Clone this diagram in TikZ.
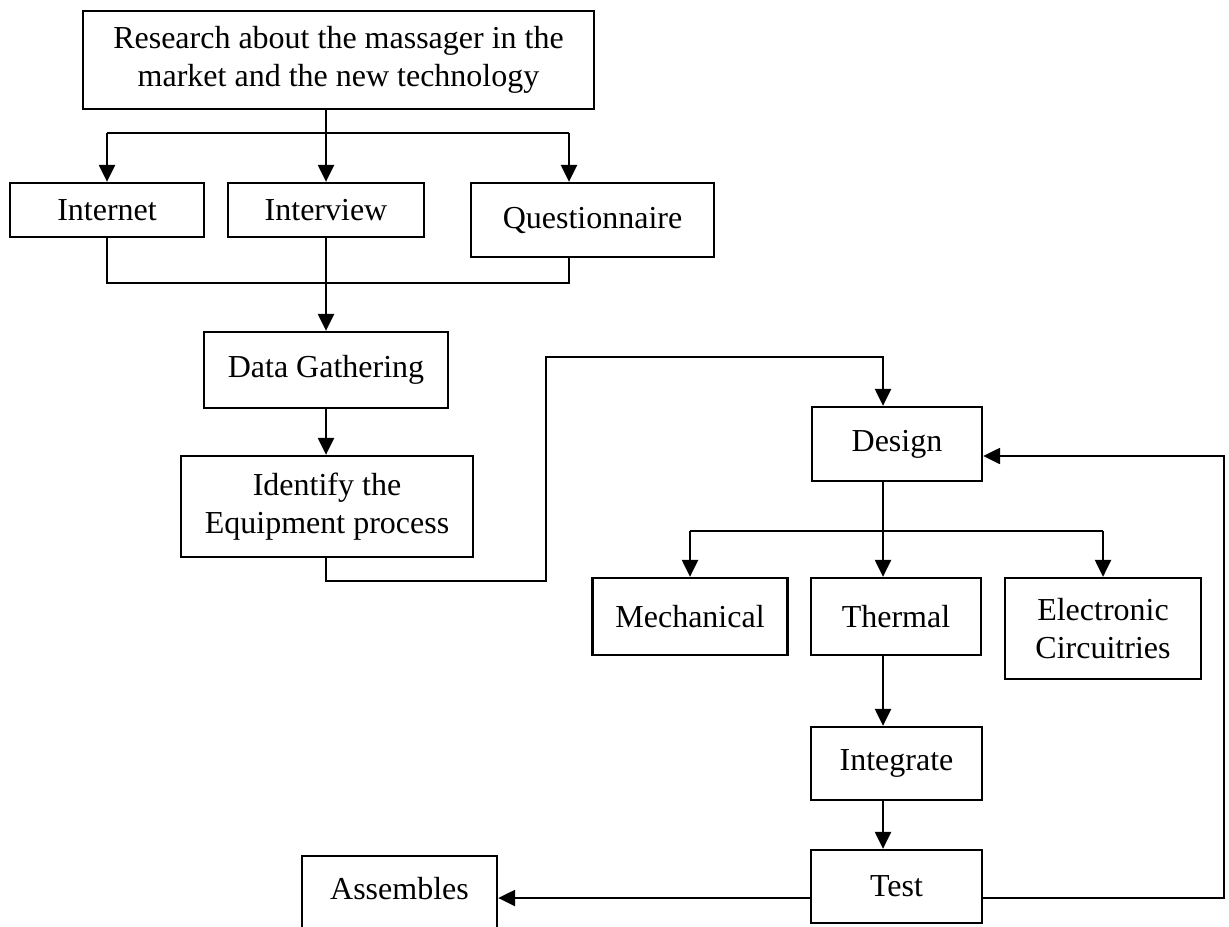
\documentclass[tikz,border=0pt]{standalone}
\usepackage{fontspec}
\setmainfont{Liberation Serif}
\usetikzlibrary{arrows.meta,calc}
\begin{document}
\begin{tikzpicture}[x=0.5pt,y=-0.5pt,
  box/.style={draw,line width=1.15pt,rectangle,inner sep=0pt,align=center,font=\fontsize{16}{19}\selectfont},
  conn/.style={line width=1.15pt},
  arr/.style={conn,-{Triangle[length=8.5pt,width=8pt]}}]
\useasboundingbox (0,0) rectangle (1229,926);
\clip (0,0) rectangle (1229,926);
\fill[white] (0,0) rectangle (1229,926);
% nodes
\node[box,minimum width=255.5pt,minimum height=49pt] (top) at (338.5,60) {Research about the massager in the\\market and the new technology};
\node[box,minimum width=97pt,minimum height=27pt] (inet) at (107,210) {Internet};
\node[box,minimum width=98pt,minimum height=27pt] (intv) at (326,210) {Interview};
\node[box,minimum width=121.5pt,minimum height=37pt] (quest) at (592.5,220) {Questionnaire};
\node[box,minimum width=122pt,minimum height=38pt] (data) at (326,370) {Data Gathering};
\node[box,minimum width=146pt,minimum height=50.5pt] (ident) at (327,506.5) {Identify the\\Equipment process};
\node[box,minimum width=85pt,minimum height=37pt] (design) at (897,444) {Design};
\node[box,minimum width=97.5pt,minimum height=38.5pt] (mech) at (690,616.5) {Mechanical};
\node[box,minimum width=85pt,minimum height=38.5pt] (therm) at (896,616.5) {Thermal};
\node[box,minimum width=98pt,minimum height=50.5pt] (elec) at (1103,628.5) {Electronic\\Circuitries};
\node[box,minimum width=85.5pt,minimum height=36.5pt] (integ) at (896.5,763.5) {Integrate};
\node[box,minimum width=85.5pt,minimum height=36.5pt] (test) at (896.5,886.5) {Test};
\node[box,minimum width=97.5pt,anchor=north,text height=21.75pt,text depth=20pt] (asm) at (399.5,855) {Assembles};
% helper coordinates
\coordinate (b1) at (0,133);
\coordinate (b2) at (0,283);
\coordinate (b3) at (0,581);
\coordinate (b4) at (546,357);
\coordinate (b5) at (0,531);
\coordinate (b6) at (0,898);
\coordinate (b7) at (1224,456);
\coordinate (xq) at (569,0);
\coordinate (xd) at (883,0);
% connectors: top level
\draw[conn] (top.south -| intv) -- (intv |- b1);
\draw[conn] (inet |- b1) -- (xq |- b1);
\draw[arr] (inet |- b1) -- (inet.north);
\draw[arr] (intv |- b1) -- (intv.north);
\draw[arr] (xq |- b1) -- (xq |- quest.north);
% merge
\draw[conn] (inet.south) -- (inet |- b2) -- (xq |- b2) -- (xq |- quest.south);
\draw[arr] (intv.south) -- (data.north);
\draw[arr] (data.south) -- (data.south |- ident.north);
% to design
\draw[arr] (data.south |- ident.south) -- (data.south |- b3) -- (b4 |- b3) -- (b4) -- (xd |- b4) -- (xd |- design.north);
% design branch
\draw[arr] (xd |- design.south) -- (xd |- therm.north);
\draw[conn] (mech |- b5) -- (elec |- b5);
\draw[arr] (mech |- b5) -- (mech.north);
\draw[arr] (elec |- b5) -- (elec.north);
\draw[arr] (xd |- therm.south) -- (xd |- integ.north);
\draw[arr] (xd |- integ.south) -- (xd |- test.north);
% test outputs
\draw[arr] (test.west |- b6) -- (asm.east |- b6);
\draw[arr] (test.east |- b6) -- (b7 |- b6) -- (b7) -- (design.east |- b7);
\end{tikzpicture}
\end{document}
